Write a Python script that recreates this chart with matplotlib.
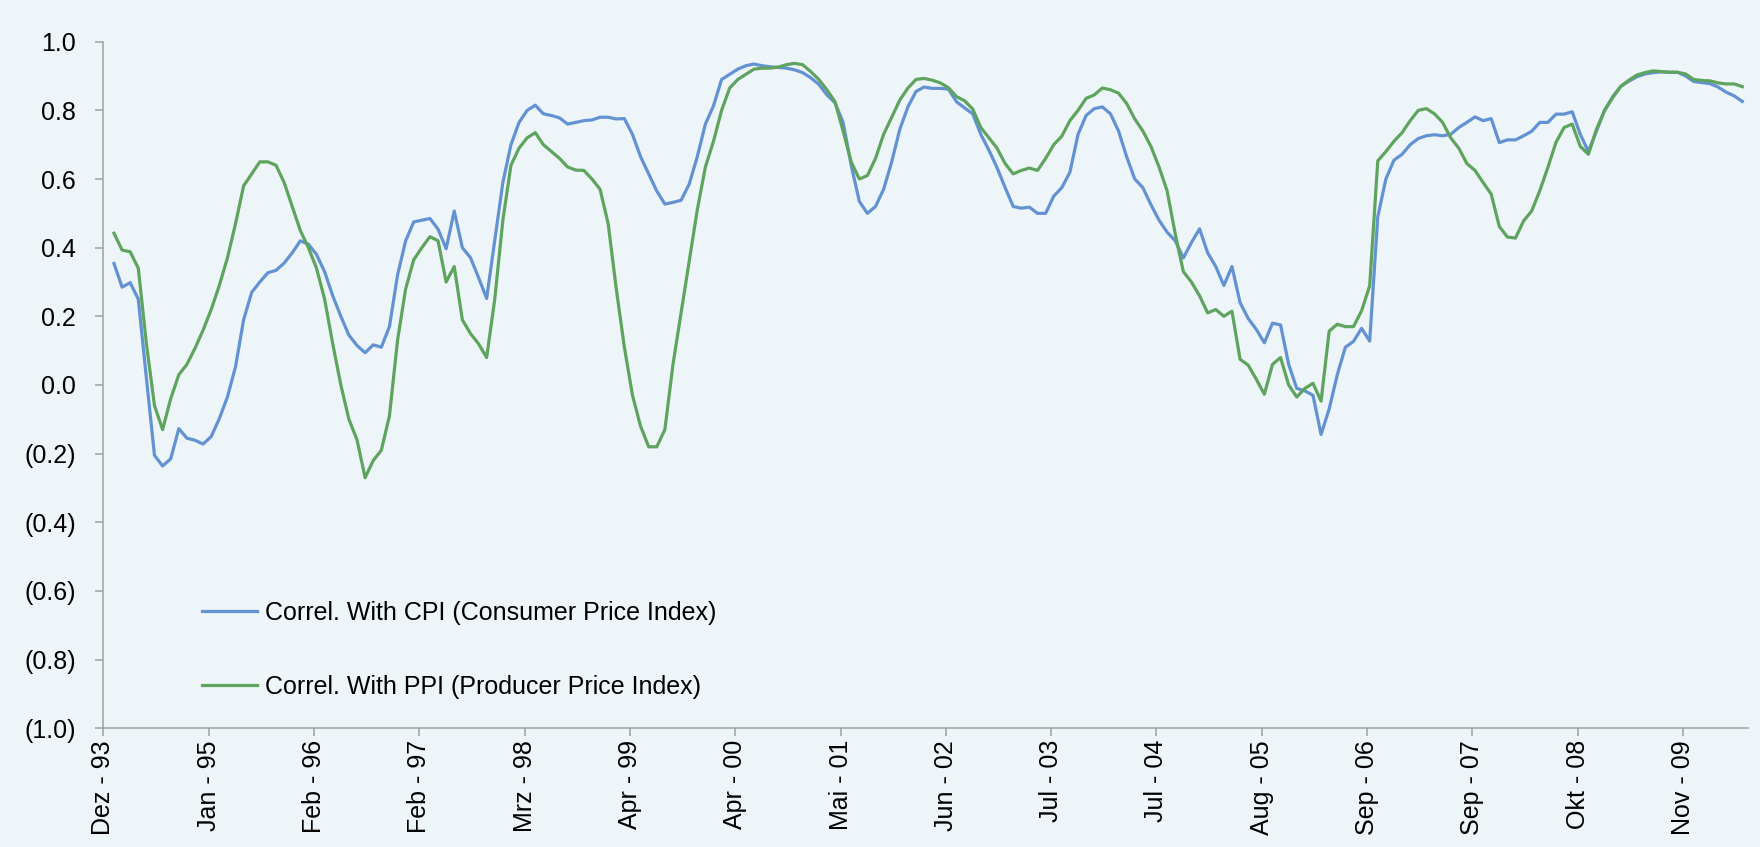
import numpy as np
import matplotlib.pyplot as plt

plt.rcParams['font.family'] = ['Liberation Sans', 'DejaVu Sans']

# monthly rolling correlations, Dez-93 .. early 2010
cpi = [0.354, 0.285, 0.298, 0.25, 0.02, -0.205, -0.236, -0.215, -0.127, -0.155,
       -0.161, -0.172, -0.15, -0.098, -0.035, 0.053, 0.19, 0.27, 0.30, 0.327,
       0.334, 0.355, 0.385, 0.42, 0.41, 0.38, 0.33, 0.26, 0.20, 0.145,
       0.115, 0.094, 0.117, 0.11, 0.17, 0.32, 0.42, 0.475, 0.48, 0.485,
       0.454, 0.397, 0.507, 0.40, 0.371, 0.313, 0.252, 0.42, 0.59, 0.70,
       0.765, 0.80, 0.815, 0.79, 0.785, 0.778, 0.76, 0.765, 0.77, 0.772,
       0.78, 0.78, 0.775, 0.776, 0.73, 0.665, 0.615, 0.565, 0.527, 0.532,
       0.538, 0.585, 0.665, 0.76, 0.813, 0.89, 0.905, 0.92, 0.93, 0.935,
       0.93, 0.927, 0.925, 0.923, 0.918, 0.91, 0.895, 0.876, 0.845, 0.822,
       0.765, 0.64, 0.535, 0.50, 0.52, 0.57, 0.65, 0.745, 0.81, 0.855,
       0.868, 0.864, 0.864, 0.862, 0.825, 0.807, 0.79, 0.73, 0.684, 0.633,
       0.575, 0.52, 0.515, 0.518, 0.50, 0.50, 0.55, 0.575, 0.62, 0.73,
       0.785, 0.805, 0.81, 0.79, 0.74, 0.665, 0.60, 0.575, 0.525, 0.48,
       0.445, 0.42, 0.37, 0.415, 0.455, 0.385, 0.345, 0.29, 0.345, 0.24,
       0.194, 0.162, 0.123, 0.18, 0.175, 0.06, -0.01, -0.017, -0.03, -0.144,
       -0.07, 0.03, 0.11, 0.127, 0.165, 0.128, 0.49, 0.60, 0.655, 0.672,
       0.70, 0.718, 0.726, 0.729, 0.726, 0.73, 0.75, 0.765, 0.781, 0.77,
       0.776, 0.706, 0.714, 0.714, 0.726, 0.739, 0.765, 0.765, 0.789, 0.789,
       0.796, 0.73, 0.68, 0.74, 0.80, 0.84, 0.87, 0.885, 0.898, 0.906,
       0.91, 0.912, 0.911, 0.911, 0.90, 0.884, 0.881, 0.878, 0.868, 0.853,
       0.842, 0.826]

ppi = [0.442, 0.393, 0.388, 0.34, 0.12, -0.06, -0.13, -0.04, 0.03, 0.06,
       0.107, 0.16, 0.22, 0.29, 0.37, 0.47, 0.58, 0.615, 0.65, 0.65,
       0.64, 0.59, 0.52, 0.45, 0.40, 0.34, 0.25, 0.12, 0.0, -0.10,
       -0.16, -0.27, -0.22, -0.19, -0.09, 0.13, 0.28, 0.365, 0.40, 0.432,
       0.42, 0.30, 0.345, 0.19, 0.15, 0.12, 0.08, 0.25, 0.48, 0.64,
       0.69, 0.72, 0.735, 0.70, 0.68, 0.66, 0.635, 0.626, 0.625, 0.60,
       0.57, 0.47, 0.28, 0.11, -0.03, -0.12, -0.18, -0.18, -0.13, 0.06,
       0.21, 0.36, 0.51, 0.635, 0.71, 0.80, 0.865, 0.89, 0.905, 0.92,
       0.923, 0.923, 0.926, 0.933, 0.937, 0.933, 0.913, 0.89, 0.86, 0.825,
       0.74, 0.65, 0.60, 0.61, 0.66, 0.73, 0.78, 0.83, 0.865, 0.89,
       0.893, 0.888, 0.88, 0.866, 0.84, 0.828, 0.804, 0.75, 0.72, 0.69,
       0.645, 0.615, 0.625, 0.632, 0.625, 0.66, 0.70, 0.725, 0.77, 0.80,
       0.835, 0.845, 0.865, 0.86, 0.85, 0.82, 0.775, 0.74, 0.695, 0.635,
       0.565, 0.44, 0.33, 0.30, 0.26, 0.21, 0.22, 0.20, 0.215, 0.075,
       0.058, 0.017, -0.027, 0.06, 0.08, 0.0, -0.035, -0.01, 0.005, -0.047,
       0.157, 0.177, 0.17, 0.17, 0.216, 0.289, 0.653, 0.68, 0.71, 0.735,
       0.77, 0.80, 0.805, 0.79, 0.765, 0.72, 0.69, 0.645, 0.625, 0.59,
       0.556, 0.462, 0.431, 0.428, 0.478, 0.507, 0.566, 0.634, 0.707, 0.75,
       0.76, 0.695, 0.672, 0.745, 0.80, 0.837, 0.87, 0.888, 0.903, 0.91,
       0.915, 0.913, 0.911, 0.911, 0.906, 0.89, 0.887, 0.886, 0.88, 0.877,
       0.877, 0.869]

tick_labels = ['Dez - 93', 'Jan - 95', 'Feb - 96', 'Feb - 97', 'Mrz - 98', 'Apr - 99',
               'Apr - 00', 'Mai - 01', 'Jun - 02', 'Jul - 03', 'Jul - 04', 'Aug - 05',
               'Sep - 06', 'Sep - 07', 'Okt - 08', 'Nov - 09']
y_ticks = [-1.0, -0.8, -0.6, -0.4, -0.2, 0.0, 0.2, 0.4, 0.6, 0.8, 1.0]

labels = ['Correl. With CPI (Consumer Price Index)', 'Correl. With PPI (Producer Price Index)']
colors = ['#6392D3', '#5EA45E']

bg = '#EDF5F8'
axis_col = '#A0A0A0'
fs = 18

months = np.arange(len(cpi))
tick_pos = 13 * np.arange(len(tick_labels)) - 1.32

W, H = 1760, 847
fig = plt.figure(figsize=(W / 100, H / 100), dpi=100, facecolor=bg)
x0, x1, y_top, y_bot = 103.3, 1748, 41.7, 728.3
ax = fig.add_axes([x0 / W, 1 - y_bot / H, (x1 - x0) / W, (y_bot - y_top) / H])
ax.set_facecolor(bg)

ax.plot(months, cpi, color=colors[0], lw=2.3, label=labels[0], solid_joinstyle='round')
ax.plot(months, ppi, color=colors[1], lw=2.3, label=labels[1], solid_joinstyle='round')

ax.set_xlim(-1.32, 201.7)
ax.set_ylim(-1.0, 1.0)

ax.set_xticks(tick_pos)
ax.set_xticklabels(tick_labels, rotation=90, fontsize=fs)
ax.set_yticks(y_ticks)
ax.set_yticklabels(['({:.1f})'.format(-v) if v < 0 else '{:.1f}'.format(abs(v)) for v in y_ticks],
                   fontsize=fs)
ax.tick_params(axis='x', direction='out', length=5.5, width=1.1, color=axis_col, pad=3)
ax.tick_params(axis='y', direction='out', length=5.5, width=1.1, color=axis_col, pad=14)

for s in ['top', 'right']:
    ax.spines[s].set_visible(False)
for s in ['left', 'bottom']:
    ax.spines[s].set_color(axis_col)
    ax.spines[s].set_linewidth(1.1)

leg = ax.legend(loc='upper left', bbox_to_anchor=((202 - x0) / (x1 - x0), (y_bot - 601) / (y_bot - y_top)),
                frameon=False, fontsize=fs, handlelength=2.2, handletextpad=0.3,
                labelspacing=2.0, borderpad=0, borderaxespad=0)

fig.savefig('out.png', dpi=100, facecolor=bg)
